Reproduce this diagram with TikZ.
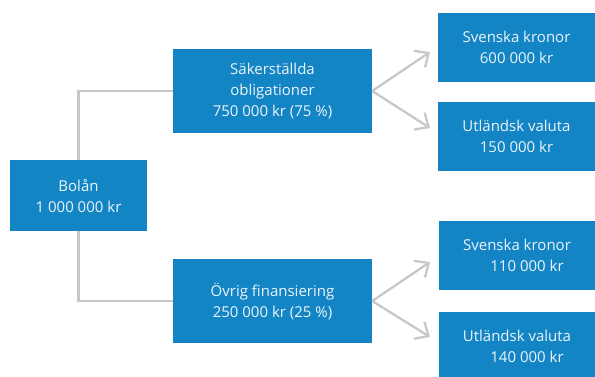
\documentclass[tikz,border=0pt]{standalone}
\usepackage{fontspec}
\setmainfont{Open Sans}
\usetikzlibrary{arrows.meta}
\definecolor{boxblue}{RGB}{19,133,197}
\definecolor{linegray}{RGB}{200,200,200}
\definecolor{boxtext}{RGB}{236,244,250}
\begin{document}
\begin{tikzpicture}[x=1pt,y=-1pt,
  box/.style={fill=boxblue, text=boxtext, align=center, inner sep=0pt,
    font=\fontsize{15}{21}\selectfont, anchor=center},
  leftbox/.style={box, minimum width=137pt, minimum height=71pt},
  midbox/.style={box, minimum width=199pt, minimum height=84pt},
  rightbox/.style={box, minimum width=157pt, minimum height=69pt},
  conn/.style={draw=linegray, line width=2.3pt},
  arr/.style={conn, -{Straight Barb[length=11pt,width=20pt]}}]
\clip (0,0) rectangle (595,376);
\node[leftbox] (b) at (78.5,195.5) {Bolån\\1 000 000 kr};
\node[midbox] (s) at (272.5,91) {Säkerställda\\obligationer\\750 000 kr (75~\%)};
\node[midbox] (o) at (272.5,301) {Övrig finansiering\\250 000 kr (25~\%)};
\node[rightbox] (sv1) at (516.5,47.5) {Svenska kronor\\600 000 kr};
\node[rightbox] (ut1) at (516.5,136.5) {Utländsk valuta\\150 000 kr};
\node[rightbox] (sv2) at (517,255.5) {Svenska kronor\\\hspace*{20pt}110 000 kr};
\node[rightbox] (ut2) at (517,346.5) {Utländsk valuta\\\hspace*{20pt}140 000 kr};
\coordinate (t1) at (430,52);
\coordinate (t2) at (430,128);
\coordinate (t3) at (430,262);
\coordinate (t4) at (430,337);
\draw[conn] (b.north) |- (s.west);
\draw[conn] (b.south) |- (o.west);
\draw[arr] (s.east) -- (t1);
\draw[arr] (s.east) -- (t2);
\draw[arr] (o.east) -- (t3);
\draw[arr] (o.east) -- (t4);
\end{tikzpicture}
\end{document}
